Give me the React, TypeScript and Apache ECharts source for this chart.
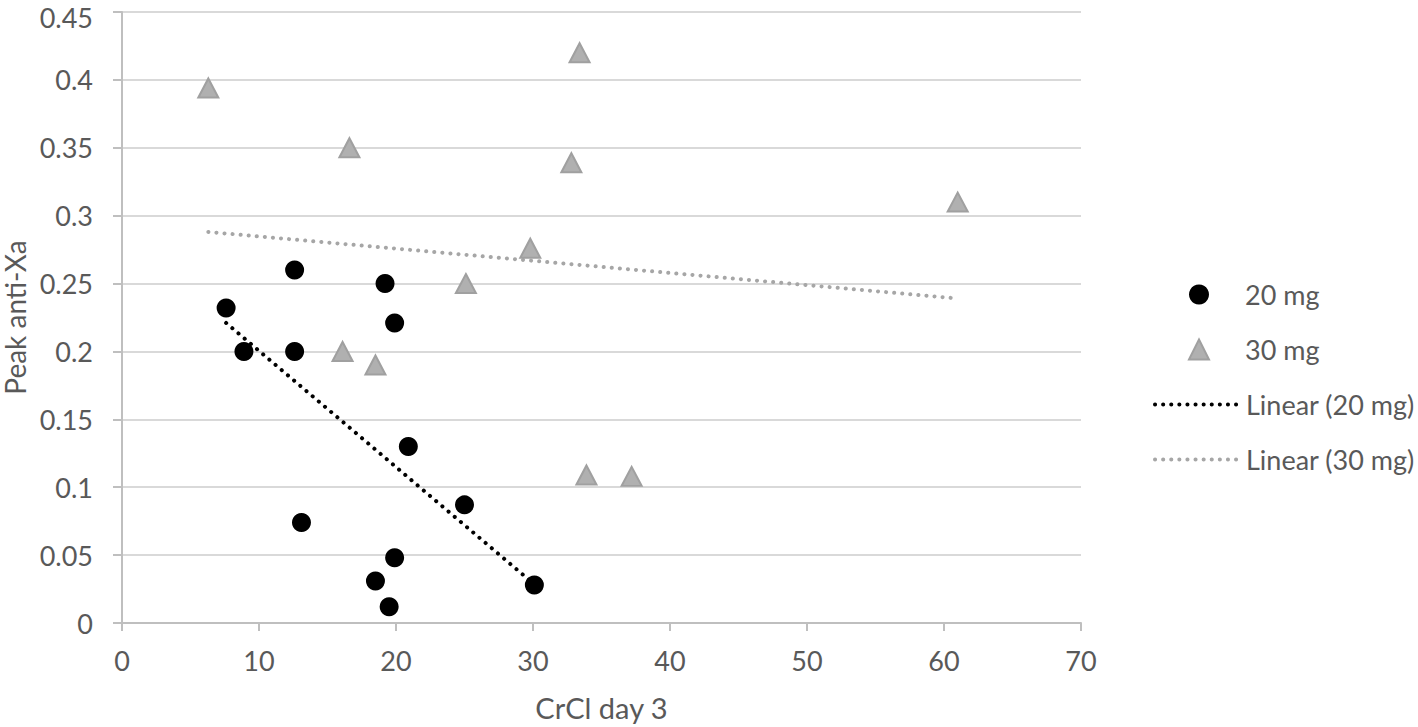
import React, { useEffect, useRef } from "react";
import * as echarts from "echarts";

const dose20X = [7.6, 8.9, 12.6, 12.6, 13.1, 19.2, 19.9, 20.9, 25.0, 19.9, 18.5, 19.5, 30.1];
const dose20Y = [0.232, 0.2, 0.26, 0.2, 0.074, 0.25, 0.221, 0.13, 0.087, 0.048, 0.031, 0.012, 0.028];
const dose30X = [6.3, 16.6, 33.4, 32.8, 61.0, 29.8, 25.1, 16.1, 18.5, 33.9, 37.2];
const dose30Y = [0.394, 0.35, 0.42, 0.339, 0.31, 0.276, 0.25, 0.2, 0.19, 0.109, 0.108];
const trend20X = [7.6, 29.8];
const trend20Y = [0.221, 0.031];
const trend30X = [6.3, 61.0];
const trend30Y = [0.288, 0.239];
const seriesNames = ["20 mg", "30 mg", "Linear (20 mg)", "Linear (30 mg)"];
const xTitle = "CrCl day 3";
const yTitle = "Peak anti-Xa";
const yMax = 0.45;

const FONT = "Lato";
const TXT = "#595959";

const zip = (xs: number[], ys: number[]) => xs.map((x, i) => [x, ys[i]]);

export default function App() {
  const ref = useRef<HTMLDivElement>(null);
  useEffect(() => {
    if (!ref.current) return;
    const chart = echarts.init(ref.current, undefined, { renderer: "svg" });
    const textStyle = { fontFamily: FONT, fontSize: 27, color: TXT };
    chart.setOption({
      animation: false,
      backgroundColor: "#ffffff",
      textStyle: { fontFamily: FONT },
      grid: {
        left: 122,
        right: 337,
        top: 12,
        bottom: 104,
        containLabel: false,
        outerBoundsMode: "none",
      },
      xAxis: {
        type: "value",
        min: 0,
        max: 70,
        interval: 10,
        name: xTitle,
        nameLocation: "middle",
        nameGap: 70,
        nameTextStyle: { ...textStyle, fontSize: 29 },
        axisLine: { show: true, lineStyle: { color: "#bfbfbf", width: 2 } },
        axisTick: { show: true, length: 8, lineStyle: { color: "#bfbfbf", width: 2 } },
        axisLabel: { ...textStyle, margin: 24 },
        splitLine: { show: false },
      },
      yAxis: {
        type: "value",
        min: 0,
        max: yMax,
        interval: 0.05,
        name: yTitle,
        nameLocation: "middle",
        nameGap: 84,
        nameTextStyle: { ...textStyle, fontSize: 28 },
        axisLine: { show: true, lineStyle: { color: "#bfbfbf", width: 2 } },
        axisTick: { show: true, length: 9, lineStyle: { color: "#bfbfbf", width: 2 } },
        axisLabel: {
          ...textStyle,
          margin: 29,
          formatter: (v: number) => {
            const s = String(parseFloat(v.toFixed(4)));
            return Math.abs(v - yMax) < 1e-9 ? `{t|${s}}` : s;
          },
          rich: { t: { ...textStyle, padding: [10, 0, 0, 0] } },
        },
        splitLine: { show: true, lineStyle: { color: "#d9d9d9", width: 2 } },
      },
      legend: [
        {
          orient: "vertical",
          left: 1183,
          top: 276,
          itemWidth: 20,
          itemHeight: 20,
          itemGap: 28,
          symbolKeepAspect: true,
          textStyle: { ...textStyle, padding: [0, 0, 0, 31] },
          data: [seriesNames[0], seriesNames[1]],
        },
        {
          orient: "vertical",
          left: 1148,
          top: 386,
          itemWidth: 84,
          itemHeight: 20,
          itemGap: 28,
          lineStyle: { width: 4, type: [0.1, 8], cap: "round" },
          textStyle: { ...textStyle, padding: [0, 0, 0, 2] },
          data: [seriesNames[2], seriesNames[3]],
        },
      ],
      series: [
        {
          name: seriesNames[0],
          type: "scatter",
          symbol: "circle",
          symbolSize: 19,
          itemStyle: { color: "#000000", opacity: 1 },
          data: zip(dose20X, dose20Y),
          z: 3,
        },
        {
          name: seriesNames[1],
          type: "scatter",
          symbol: "triangle",
          symbolSize: [20, 19],
          symbolKeepAspect: true,
          itemStyle: { color: "#b0b0b0", borderColor: "#a0a0a0", borderWidth: 2, opacity: 1 },
          data: zip(dose30X, dose30Y),
          z: 3,
        },
        {
          name: seriesNames[2],
          type: "line",
          showSymbol: false,
          symbol: "none",
          lineStyle: { color: "#000000", width: 4, type: [0.1, 8], cap: "round" },
          itemStyle: { color: "#000000", opacity: 0 },
          data: zip(trend20X, trend20Y),
          z: 2,
        },
        {
          name: seriesNames[3],
          type: "line",
          showSymbol: false,
          symbol: "none",
          lineStyle: { color: "#a6a6a6", width: 4, type: [0.1, 8], cap: "round" },
          itemStyle: { color: "#a6a6a6", opacity: 0 },
          data: zip(trend30X, trend30Y),
          z: 2,
        },
      ],
    });
    return () => chart.dispose();
  }, []);
  return (
    <div
      ref={ref}
      style={{ position: "fixed", left: 0, top: 0, width: 1418, height: 727 }}
    />
  );
}
